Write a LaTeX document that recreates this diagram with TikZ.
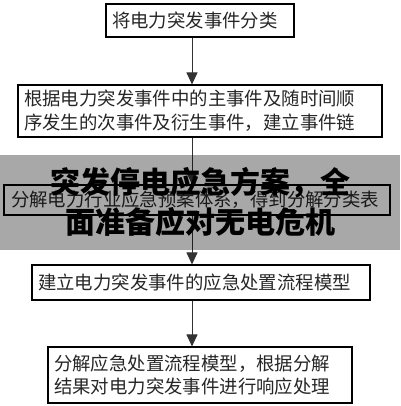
\documentclass[tikz,border=0pt]{standalone}
\usepackage{fontspec}
\newfontfamily\cjk{Noto Sans CJK SC}
\usetikzlibrary{arrows.meta}

\tikzset{
  stepbox/.style={draw=black, line width=1.1pt, inner xsep=6pt, inner ysep=0pt,
    text=black!85, font=\cjk\fontsize{18.4}{23.8}\selectfont, align=left},
  flow/.style={draw=black!80, line width=1pt, -{Triangle[length=12pt,width=11pt]}}
}

\begin{document}
\begin{tikzpicture}[x=1pt,y=-1pt]
% Page size (pixels of the reference)
\useasboundingbox (0,0) rectangle (400,406);
\fill[white] (0,0) rectangle (400,406);

% Arrow column
\coordinate (ax) at (192,0);

% Boxes, top to bottom
\node[stepbox, text width=176pt, minimum height=33pt] (b1) at (200,20.5)
  {将电力突发事件分类};
\node[stepbox, text width=352pt, minimum height=52pt] (b2) at (200,111)
  {根据电力突发事件中的主事件及随时间顺\\序发生的次事件及衍生事件，建立事件链};
\node[stepbox, text width=372pt, inner xsep=7pt, minimum height=30pt] (b3) at (197,200)
  {分解电力行业应急预案体系，得到分解分类表};
\node[stepbox, text width=326pt, minimum height=35pt] (b4) at (201,282.5)
  {建立电力突发事件的应急处置流程模型};
\node[stepbox, text width=292pt, minimum height=56pt] (b5) at (200,375)
  {分解应急处置流程模型，根据分解\\结果对电力突发事件进行响应处理};

% Connectors
\draw[flow] (b1.south -| ax) -- (b2.north -| ax);
\draw[flow] (b2.south -| ax) -- (b3.north -| ax);
\draw[flow] (b3.south -| ax) -- (b4.north -| ax);
\draw[flow] (b4.south -| ax) -- (b5.north -| ax);

% Grey banner with title
\fill[black, opacity=0.34] (0,155) rectangle (400,250);
\node[font=\cjk\bfseries\fontsize{30}{40}\selectfont, align=center, text=black] (title) at (200,202)
  {突发停电应急方案，全\\面准备应对无电危机};

\end{tikzpicture}
\end{document}
